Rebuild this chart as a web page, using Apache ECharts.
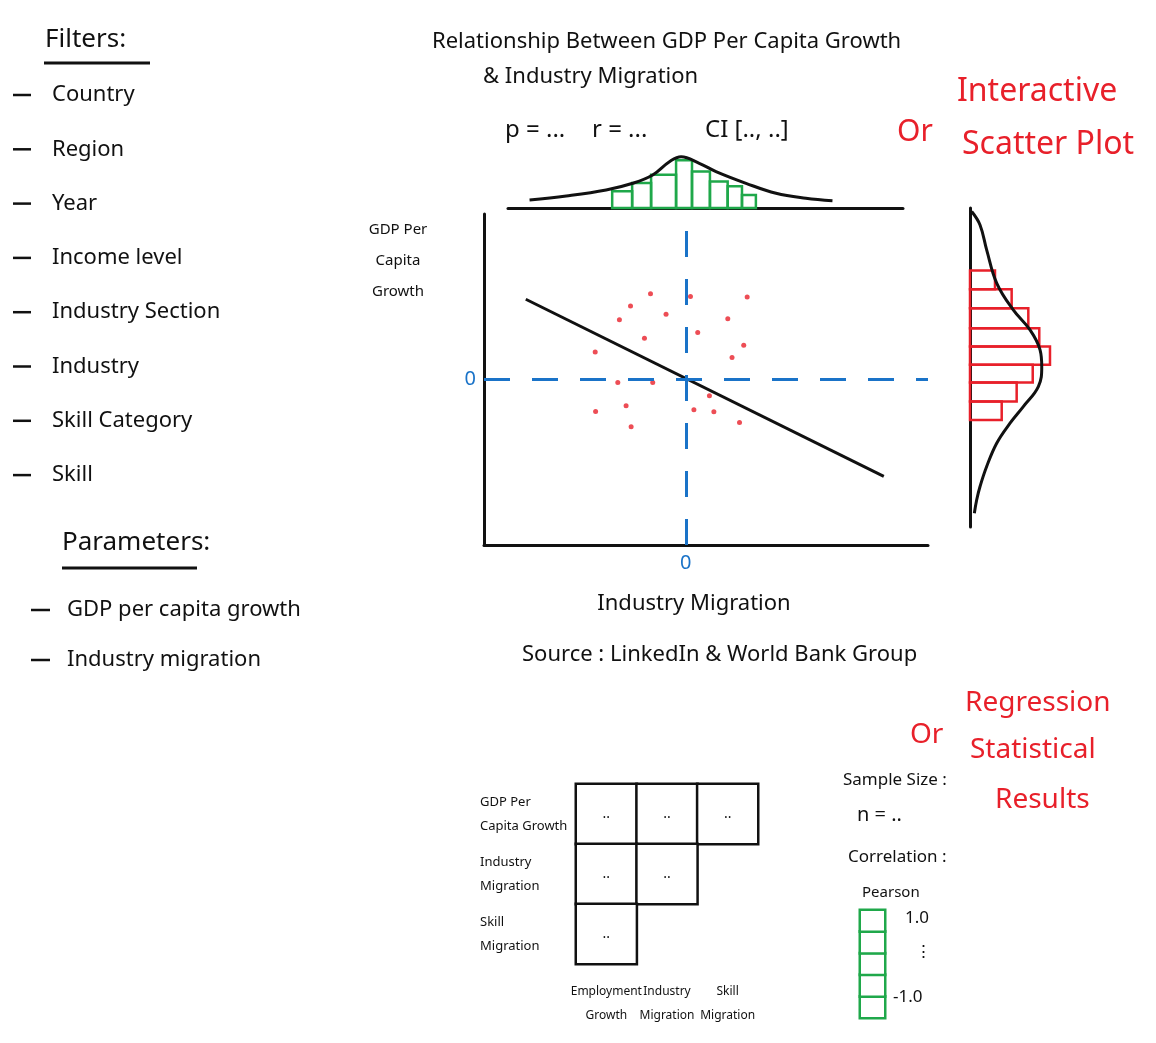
<!DOCTYPE html>
<html>
<head>
<meta charset="utf-8">
<script src="https://cdn.jsdelivr.net/npm/echarts@6/dist/echarts.min.js"></script>
<style>
  html, body { margin: 0; padding: 0; background: #fff; }
  #main { width: 1156px; height: 1043px; }
</style>
</head>
<body>
<div id="main"></div>
<script>
// filters / parameters on the left
const filters = ["Country", "Region", "Year", "Income level", "Industry Section", "Industry", "Skill Category", "Skill"];
const params = ["GDP per capita growth", "Industry migration"];

// scatter points (industry migration, gdp per capita growth)
const scatterX = [-0.175, -0.274, -0.098, -0.329, 0.023, 0.304, 0.208, 0.059, -0.205, 0.287, -0.449, 0.229, -0.337, -0.164, 0.117, -0.296, -0.447, 0.040, 0.139, 0.266, -0.271];
const scatterY = [0.513, 0.44, 0.39, 0.357, 0.496, 0.494, 0.364, 0.281, 0.247, 0.205, 0.165, 0.131, -0.018, -0.018, -0.097, -0.157, -0.191, -0.181, -0.193, -0.257, -0.282];

// regression line end points
const regX = [-0.793, 0.981];
const regY = [0.48, -0.579];

// top marginal: histogram bin edges + heights, density curve
const topEdges = [-0.373, -0.274, -0.180, -0.056, 0.023, 0.112, 0.200, 0.271, 0.340];
const topHeights = [0.32, 0.48, 0.64, 0.92, 0.70, 0.51, 0.42, 0.25];
const topCurveX = [-0.783, -0.601, -0.403, -0.271, -0.172, -0.089, -0.031, 0.059, 0.142, 0.291, 0.44, 0.588, 0.72];
const topCurveY = [0.154, 0.23, 0.346, 0.475, 0.635, 0.89, 0.987, 0.86, 0.70, 0.475, 0.283, 0.187, 0.14];

// right marginal: histogram bin edges + widths, density curve
const rightEdges = [0.627, 0.516, 0.403, 0.284, 0.175, 0.066, -0.04, -0.153, -0.262];
const rightWidths = [0.294, 0.49, 0.686, 0.815, 0.941, 0.738, 0.549, 0.373];
const rightCurveX = [0.02, 0.118, 0.196, 0.314, 0.509, 0.706, 0.824, 0.844, 0.804, 0.627, 0.471, 0.314, 0.196, 0.118, 0.079, 0.051];
const rightCurveY = [0.979, 0.899, 0.751, 0.553, 0.393, 0.274, 0.155, 0.055, -0.064, -0.183, -0.282, -0.401, -0.54, -0.659, -0.738, -0.818];

// correlation matrix
const matrixCols = ["Employment\nGrowth", "Industry\nMigration", "Skill\nMigration"];
const matrixRows = ["GDP Per\nCapita Growth", "Industry\nMigration", "Skill\nMigration"];
const matrixCells = [[0, 0], [1, 0], [2, 0], [0, 1], [1, 1], [0, 2]];

// pearson scale
const pearsonBins = ["b1", "b2", "b3", "b4", "b5"];
const pearsonLabels = ["1.0", "⋮", "-1.0"];

const FONT = "'Noto Sans', sans-serif";
const BLACK = "#111";
const RED = "#e8202a";
const GREEN = "#1fa84a";
const BLUE = "#1a73c8";

var myChart = echarts.init(document.getElementById("main"));

function txt(text, x, y, size, color, align) {
  return {
    type: "text",
    x: x,
    y: y,
    style: {
      text: text,
      font: size + "px " + FONT,
      fill: color || BLACK,
      textAlign: align || "left",
      textVerticalAlign: "middle",
    },
  };
}
function ln(x1, y1, x2, y2, color, w) {
  return { type: "line", shape: { x1, y1, x2, y2 }, style: { stroke: color || BLACK, lineWidth: w || 3 } };
}

// graphic texts
const graphics = [];
graphics.push(txt("Filters:", 45, 40, 26));
graphics.push(ln(44, 63, 150, 63));
filters.forEach((f, i) => {
  const y = 95 + i * 54.3;
  graphics.push(ln(13, y, 31, y, BLACK, 2.5));
  graphics.push(txt(f, 52, y, 22));
});
graphics.push(txt("Parameters:", 62, 543, 26));
graphics.push(ln(62, 568, 197, 568));
params.forEach((p, i) => {
  const y = 610 + i * 50;
  graphics.push(ln(31, y, 50, y, BLACK, 2.5));
  graphics.push(txt(p, 67, y, 22));
});

graphics.push(txt("Relationship Between GDP Per Capita Growth", 432, 42, 22));
graphics.push(txt("& Industry Migration", 483, 77, 22));
graphics.push(txt("p = ...", 505, 130, 24));
graphics.push(txt("r = ...", 592, 130, 24));
graphics.push(txt("CI [.., ..]", 705, 130, 24));

graphics.push(txt("Or", 897, 132, 30, RED));
graphics.push(txt("Interactive", 957, 92, 32, RED));
graphics.push(txt("Scatter Plot", 962, 145, 32, RED));

graphics.push(txt("GDP Per", 398, 230, 15, BLACK, "center"));
graphics.push(txt("Capita", 398, 261, 15, BLACK, "center"));
graphics.push(txt("Growth", 398, 292, 15, BLACK, "center"));

graphics.push(txt("Industry Migration", 694, 604, 22, BLACK, "center"));
graphics.push(txt("Source : LinkedIn & World Bank Group", 522, 655, 22));

graphics.push(txt("Or", 910, 735, 28, RED));
graphics.push(txt("Regression", 965, 703, 28, RED));
graphics.push(txt("Statistical", 970, 750, 28, RED));
graphics.push(txt("Results", 995, 800, 28, RED));

graphics.push(txt("Sample Size :", 843, 780, 17));
graphics.push(txt("n = ..", 857, 815, 20));
graphics.push(txt("Correlation :", 848, 857, 17));
graphics.push(txt("Pearson", 862, 893, 15));
graphics.push(txt(pearsonLabels[0], 905, 918, 17));
graphics.push(txt(pearsonLabels[1], 915, 952, 17));
graphics.push(txt(pearsonLabels[2], 893, 997, 17));

// rect outline for histograms
function histItem(params, api, vertical) {
  let p0, p1;
  if (!vertical) {
    p0 = api.coord([api.value(0), api.value(2)]);
    p1 = api.coord([api.value(1), 0]);
  } else {
    p0 = api.coord([0, api.value(0)]);
    p1 = api.coord([api.value(2), api.value(1)]);
  }
  return {
    type: "rect",
    shape: { x: p0[0], y: p0[1], width: p1[0] - p0[0], height: p1[1] - p0[1] },
    style: { fill: "rgba(0,0,0,0)", stroke: vertical ? RED : GREEN, lineWidth: 2.5 },
  };
}

var option = {
  backgroundColor: "#fff",
  animation: false,
  textStyle: { fontFamily: FONT },
  graphic: graphics,
  grid: [
    { left: 484, top: 214, width: 444, height: 331 },
    { left: 508, top: 156, width: 395, height: 52 },
    { left: 970, top: 208, width: 85, height: 319 },
    { left: 576, top: 784, width: 182, height: 180 },
    { left: 860, top: 910, width: 25, height: 108 },
  ],
  xAxis: [
    {
      gridIndex: 0, type: "value", min: -1, max: 1.2, interval: 1,
      axisLine: { onZero: false, lineStyle: { color: BLACK, width: 3 } },
      axisTick: { show: false }, splitLine: { show: false },
      axisLabel: { color: BLUE, fontSize: 20, margin: 8, formatter: (v) => (v === 0 ? "0" : "") },
    },
    {
      gridIndex: 1, type: "value", min: -0.89, max: 1.07,
      axisLine: { onZero: false, lineStyle: { color: BLACK, width: 3 } },
      axisTick: { show: false }, splitLine: { show: false }, axisLabel: { show: false },
    },
    { gridIndex: 2, type: "value", min: 0, max: 1, show: false },
    {
      gridIndex: 3, type: "category", data: matrixCols,
      axisLine: { show: false }, axisTick: { show: false },
      axisLabel: { interval: 0, color: BLACK, fontSize: 12, margin: 16, lineHeight: 24 },
    },
    { gridIndex: 4, type: "category", data: ["Pearson"], show: false },
  ],
  yAxis: [
    {
      gridIndex: 0, type: "value", min: -0.99, max: 0.99, interval: 0.99,
      axisLine: { show: true, onZero: false, lineStyle: { color: BLACK, width: 3 } },
      axisTick: { show: false }, splitLine: { show: false },
      axisLabel: { color: BLUE, fontSize: 20, margin: 8, formatter: (v) => (v === 0 ? "0" : "") },
    },
    { gridIndex: 1, type: "value", min: 0, max: 1, show: false },
    {
      gridIndex: 2, type: "value", min: -0.9, max: 1.0,
      axisLine: { show: true, onZero: false, lineStyle: { color: BLACK, width: 3 } },
      axisTick: { show: false }, splitLine: { show: false }, axisLabel: { show: false },
    },
    {
      gridIndex: 3, type: "category", data: matrixRows, inverse: true,
      axisLine: { show: false }, axisTick: { show: false },
      axisLabel: { interval: 0, color: BLACK, fontSize: 13, align: "left", margin: 96, lineHeight: 24 },
    },
    { gridIndex: 4, type: "category", data: pearsonBins, show: false },
  ],
  series: [
    {
      name: "points", type: "scatter", xAxisIndex: 0, yAxisIndex: 0,
      data: scatterX.map((x, i) => [x, scatterY[i]]),
      symbolSize: 5, itemStyle: { color: RED },
    },
    {
      name: "regression", type: "line", xAxisIndex: 0, yAxisIndex: 0,
      data: regX.map((x, i) => [x, regY[i]]),
      symbol: "none", lineStyle: { color: BLACK, width: 3 },
      markLine: {
        silent: true, symbol: "none", label: { show: false },
        lineStyle: { color: BLUE, width: 3, type: [26, 22] },
        data: [{ xAxis: 0 }, { yAxis: 0 }],
      },
    },
    {
      name: "top hist", type: "custom", xAxisIndex: 1, yAxisIndex: 1,
      data: topHeights.map((h, i) => [topEdges[i], topEdges[i + 1], h]),
      renderItem: (p, api) => histItem(p, api, false),
    },
    {
      name: "top density", type: "line", xAxisIndex: 1, yAxisIndex: 1,
      data: topCurveX.map((x, i) => [x, topCurveY[i]]),
      smooth: 0.4, symbol: "none", lineStyle: { color: BLACK, width: 3 },
    },
    {
      name: "right hist", type: "custom", xAxisIndex: 2, yAxisIndex: 2,
      data: rightWidths.map((w, i) => [rightEdges[i], rightEdges[i + 1], w]),
      renderItem: (p, api) => histItem(p, api, true),
    },
    {
      name: "right density", type: "line", xAxisIndex: 2, yAxisIndex: 2,
      data: rightCurveX.map((x, i) => [x, rightCurveY[i]]),
      smooth: 0.4, symbol: "none", lineStyle: { color: BLACK, width: 3 },
    },
    {
      name: "matrix", type: "heatmap", xAxisIndex: 3, yAxisIndex: 3,
      data: matrixCells.map((c) => [c[0], c[1], 0]),
      itemStyle: { color: "#fff", borderColor: BLACK, borderWidth: 2.5 },
      label: { show: true, formatter: "..", color: BLACK, fontSize: 14 },
    },
    {
      name: "pearson", type: "heatmap", xAxisIndex: 4, yAxisIndex: 4,
      data: pearsonBins.map((b, i) => [0, i, 0]),
      itemStyle: { color: "#fff", borderColor: GREEN, borderWidth: 2.5 },
    },
  ],
};

option && myChart.setOption(option);
</script>
</body>
</html>
